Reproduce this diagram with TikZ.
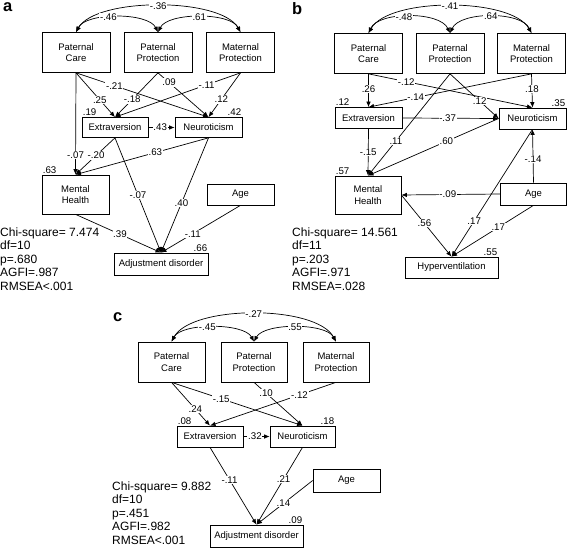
\documentclass[tikz,border=0pt]{standalone}
\usepackage{fontspec}
\setmainfont{Liberation Sans}
\usepackage{tikz}
\usetikzlibrary{arrows.meta}

\begin{document}
\begin{tikzpicture}[x=1pt,y=-1pt,>={Latex[length=5.5pt,width=4.5pt]},
  box/.style={draw,line width=0.7pt,minimum width=68pt,minimum height=40pt,inner sep=0pt,align=center,font=\fontsize{9.5}{11.5}\selectfont},
  sbox/.style={box,minimum width=66pt,minimum height=20pt},
  wbox/.style={box,minimum width=94pt,minimum height=22pt},
  conn/.style={->,line width=0.7pt},
  cov/.style={<->,line width=0.7pt},
  lbl/.style={fill=white,inner sep=0.7pt,font=\fontsize{9.7}{9.7}\selectfont},
  varlbl/.style={inner sep=1pt,font=\fontsize{9.7}{9.7}\selectfont},
  stats/.style={anchor=north west,inner sep=0pt,align=left,font=\fontsize{12}{13.5}\selectfont},
  panel/.style={anchor=base west,inner sep=0pt,font=\fontsize{16.5}{16.5}\selectfont\bfseries}]
\useasboundingbox (0,0) rectangle (567,548);

\node[panel] (aTag) at (3,11.7) {a};
\node[box] (aPC) at (76,52.5) {Paternal\\Care};
\node[box] (aPP) at (158,52.5) {Paternal\\Protection};
\node[box] (aMP) at (240.5,52.5) {Maternal\\Protection};
\node[sbox] (aExt) at (115,127.5) {Extraversion};
\node[sbox,minimum width=67pt] (aN) at (208.5,127.5) {Neuroticism};
\node[box,minimum width=67pt,minimum height=39pt] (aMH) at (75.5,194.5) {Mental\\Health};
\node[sbox,minimum width=67pt,minimum height=21pt] (aAge) at (240.5,194.5) {Age};
\node[wbox] (aAD) at (161,264) {Adjustment disorder};
\draw[cov] (aPC.north) .. controls +(20,-35) and +(-20,-35) .. node[lbl] (aC1) {-.36} (aMP.north);
\draw[cov] (aPC.north) .. controls +(10,-20) and +(-10,-20) .. node[lbl,pos=.42] (aC2) {-.46} (aPP.north);
\draw[cov] (aPP.north) .. controls +(10,-20) and +(-10,-20) .. node[lbl] (aC3) {.61} (aMP.north);
\draw[conn] (aPC.south) -- node[lbl,pos=.61] (aL1) {.25} (aExt.north);
\draw[conn] (aPC.south) -- node[lbl,pos=.29] (aL2) {-.21} (aN.north);
\draw[conn] (aPC.south) -- node[lbl,pos=.81] (aL3) {-.07} (aMH.north);
\draw[conn] (aPP.south) -- node[lbl,pos=.6] (aL4) {-.18} (aExt.north);
\draw[conn] (aPP.south) -- node[lbl,pos=.22] (aL5) {.09} (aN.north);
\draw[conn] (aMP.south) -- node[lbl,pos=.27] (aL6) {-.11} (aExt.north);
\draw[conn] (aMP.south) -- node[lbl,pos=.6] (aL7) {.12} (aN.north);
\draw[conn] (aExt.east) -- node[lbl,pos=.45] (aL8) {.43} (aN.west);
\draw[conn] (aExt.south) -- node[lbl,pos=.48] (aL9) {-.20} (aMH.north);
\draw[conn] (aExt.south) -- node[lbl,pos=.5] (aL10) {-.07} (aAD.north);
\draw[conn] (aN.south) -- node[lbl,pos=.4] (aL11) {.63} (aMH.north);
\draw[conn] (aN.south) -- node[lbl,pos=.57] (aL12) {.40} (aAD.north);
\draw[conn] (aMH.south) -- node[lbl,pos=.52] (aL13) {.39} (aAD.north);
\draw[conn] (aAge.south) -- node[lbl,pos=.6] (aL14) {-.11} (aAD.north);
\node[varlbl,anchor=south west] (aExtV) at (aExt.north west) {.19};
\node[varlbl,anchor=south east] (aNV) at (aN.north east) {.42};
\node[varlbl,anchor=south west] (aMHV) at (aMH.north west) {.63};
\node[varlbl,anchor=south east] (aADV) at (aAD.north east) {.66};
\node[stats] (aFit) at (0,227.5) {Chi-square= 7.474\\df=10\\p=.680\\AGFI=.987\\RMSEA<.001};

\node[panel] (bTag) at (292,15) {b};
\node[box] (bPC) at (368.5,53.5) {Paternal\\Care};
\node[box] (bPP) at (450,53.5) {Paternal\\Protection};
\node[box] (bMP) at (531.5,53.5) {Maternal\\Protection};
\node[sbox,minimum width=67pt,minimum height=21pt] (bExt) at (368.5,118) {Extraversion};
\node[sbox,minimum width=67pt,minimum height=21pt] (bN) at (532.5,118.5) {Neuroticism};
\node[box,minimum width=66pt,minimum height=38pt] (bMH) at (368,195) {Mental\\Health};
\node[sbox,minimum height=22pt] (bAge) at (533.5,194) {Age};
\node[wbox,minimum width=93pt,minimum height=21pt] (bHv) at (451.5,267.5) {Hyperventilation};
\draw[cov] (bPC.north) .. controls +(20,-36) and +(-20,-36) .. node[lbl] (bC1) {-.41} (bMP.north);
\draw[cov] (bPC.north) .. controls +(10,-22) and +(-10,-22) .. node[lbl,pos=.45] (bC2) {-.48} (bPP.north);
\draw[cov] (bPP.north) .. controls +(10,-22) and +(-10,-22) .. node[lbl] (bC3) {.64} (bMP.north);
\draw[conn] (bPC.south) -- node[lbl,pos=.46] (bL1) {.26} (bExt.north);
\draw[conn] (bPC.south) -- node[lbl,pos=.23] (bL2) {-.12} (bN.north);
\draw[conn] (bMP.south) -- node[lbl,pos=.71] (bL3) {-.14} (bExt.north);
\draw[conn] (bMP.south) -- node[lbl,pos=.45] (bL4) {.18} (bN.north);
\draw[conn] (bPP.south) -- node[lbl,pos=.61] (bL5) {.12} (bN.west);
\draw[conn] (bPP.south) -- node[lbl,pos=.66] (bL6) {.11} (bMH.north);
\draw[conn] (bExt.east) -- node[lbl,pos=.47] (bL7) {-.37} (bN.west);
\draw[conn] (bN.west) -- node[lbl,pos=.4] (bL8) {.60} (bMH.north);
\draw[conn] (bExt.south) -- node[lbl,pos=.5] (bL9) {-.15} (bMH.north);
\draw[conn] (bAge.north) -- node[lbl,pos=.44] (bL10) {-.14} (bN.south);
\draw[conn] (bAge.west) -- node[lbl,pos=.53] (bL11) {-.09} (bMH.east);
\draw[conn] (bMH.east) -- node[lbl,pos=.46] (bL12) {.56} (bHv.north);
\draw[conn] (bN.south) -- node[lbl,pos=.72] (bL13) {.17} (bHv.north);
\draw[conn] (bAge.south) -- node[lbl,pos=.43] (bL14) {.17} (bHv.north);
\node[varlbl,anchor=south west] (bExtV) at (bExt.north west) {.12};
\node[varlbl,anchor=south east] (bNV) at (bN.north east) {.35};
\node[varlbl,anchor=south west] (bMHV) at (bMH.north west) {.57};
\node[varlbl,anchor=south east] (bHvV) at (bHv.north east) {.55};
\node[stats] (bFit) at (292,227.5) {Chi-square= 14.561\\df=11\\p=.203\\AGFI=.971\\RMSEA=.028};

\node[panel] (cTag) at (113,321) {c};
\node[box,minimum width=67pt] (cPC) at (171.5,362) {Paternal\\Care};
\node[box,minimum width=66pt] (cPP) at (254,362) {Paternal\\Protection};
\node[box,minimum width=66pt] (cMP) at (336,362) {Maternal\\Protection};
\node[sbox,minimum height=21pt] (cExt) at (210,436.5) {Extraversion};
\node[sbox,minimum width=65pt,minimum height=21pt] (cN) at (302.5,436.5) {Neuroticism};
\node[sbox,minimum width=67pt,minimum height=23pt] (cAge) at (346.5,480.5) {Age};
\node[wbox,minimum width=93pt] (cAD) at (256.5,536) {Adjustment disorder};
\draw[cov] (cPC.north) .. controls +(20,-37) and +(-20,-37) .. node[lbl] (cC1) {-.27} (cMP.north);
\draw[cov] (cPC.north) .. controls +(10,-19) and +(-10,-19) .. node[lbl,pos=.45] (cC2) {-.45} (cPP.north);
\draw[cov] (cPP.north) .. controls +(10,-19) and +(-10,-19) .. node[lbl] (cC3) {.55} (cMP.north);
\draw[conn] (cPC.south) -- node[lbl,pos=.62] (cL1) {.24} (cExt.north);
\draw[conn] (cPC.south) -- node[lbl,pos=.38] (cL2) {-.15} (cN.north);
\draw[conn] (cPP.south) -- node[lbl,pos=.25] (cL3) {.10} (cN.north);
\draw[conn] (cMP.south) -- node[lbl,pos=.29] (cL4) {-.12} (cExt.north);
\draw[conn] (cExt.east) -- node[lbl,pos=.44] (cL5) {.32} (cN.west);
\draw[conn] (cExt.south) -- node[lbl,pos=.42] (cL6) {-.11} (cAD.north);
\draw[conn] (cN.south) -- node[lbl,pos=.41] (cL7) {.21} (cAD.north);
\draw[conn] (cAge.west) -- node[lbl,pos=.52] (cL8) {.14} (cAD.north);
\node[varlbl,anchor=south west] (cExtV) at (cExt.north west) {.08};
\node[varlbl,anchor=south east] (cNV) at (cN.north east) {.18};
\node[varlbl,anchor=south east] (cADV) at (cAD.north east) {.09};
\node[stats] (cFit) at (112,481.5) {Chi-square= 9.882\\df=10\\p=.451\\AGFI=.982\\RMSEA<.001};
\end{tikzpicture}
\end{document}
